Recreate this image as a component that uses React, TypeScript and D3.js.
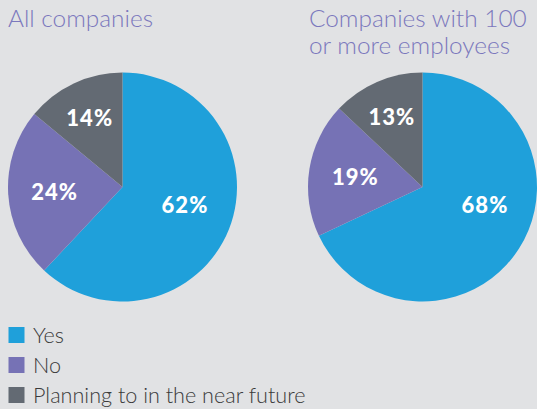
import React from "react";
import * as d3 from "d3";

const categories = ["Yes", "No", "Planning to in the near future"];
const allCompanies = [62, 24, 14];
const bigCompanies = [68, 19, 13];
const titles = [["All companies"], ["Companies with 100", "or more employees"]];

const W = 537;
const H = 409;
const colors = ["#1fa0da", "#7672b5", "#636a73"];
const labelRadius = [65, 68, 77];
// the largest slice's label is kept in the right-hand side, near the 3-o'clock position
const maxLabelAngle = (106 / 180) * Math.PI;
const BG = "#e1e2e4";
const TITLE_COLOR = "#7b78bd";
const FONT = "Lato, 'Open Sans', sans-serif";

function Pie({ values, cx, cy, r }: { values: number[]; cx: number; cy: number; r: number }) {
  const pie = d3.pie<number>().sort(null).value((d) => d);
  const arcs = pie(values);
  const arc = d3.arc<d3.PieArcDatum<number>>().innerRadius(0).outerRadius(r);
  return (
    <g transform={`translate(${cx},${cy})`}>
      {arcs.map((a, i) => (
        <path key={i} d={arc(a) || ""} fill={colors[i]} />
      ))}
      {arcs.map((a, i) => {
        const mid = (a.startAngle + a.endAngle) / 2;
        const ang = i === 0 ? Math.min(mid, maxLabelAngle) : mid;
        const x = Math.sin(ang) * labelRadius[i];
        const y = -Math.cos(ang) * labelRadius[i];
        return (
          <text
            key={"t" + i}
            x={x}
            y={y}
            textAnchor="middle"
            dominantBaseline="central"
            fill="#fff"
            fontFamily={FONT}
            fontWeight={900}
            fontSize={22}
            letterSpacing={1}
          >
            {d3.format("d")(a.data)}%
          </text>
        );
      })}
    </g>
  );
}

export default function App() {
  return (
    <svg width={W} height={H} style={{ position: "absolute", left: 0, top: 0, background: BG }}>
      <rect width={W} height={H} fill={BG} />
      {titles[0].map((t, i) => (
        <text key={i} x={8} y={27 + i * 27} fill={TITLE_COLOR} fontFamily={FONT} fontWeight={300} fontSize={24.4}>
          {t}
        </text>
      ))}
      {titles[1].map((t, i) => (
        <text key={i} x={309} y={27 + i * 27} fill={TITLE_COLOR} fontFamily={FONT} fontWeight={300} fontSize={24.4}>
          {t}
        </text>
      ))}
      <Pie values={allCompanies} cx={122.5} cy={187} r={114.5} />
      <Pie values={bigCompanies} cx={422.5} cy={187} r={114.5} />
      {categories.map((c, i) => (
        <g key={c} transform={`translate(0,${327 + i * 30})`}>
          <rect x={8.5} y={0} width={16} height={16} fill={colors[i]} />
          <text x={33} y={16} fill="#3a3a3a" fontFamily={FONT} fontWeight={300} fontSize={21.6}>
            {c}
          </text>
        </g>
      ))}
    </svg>
  );
}
